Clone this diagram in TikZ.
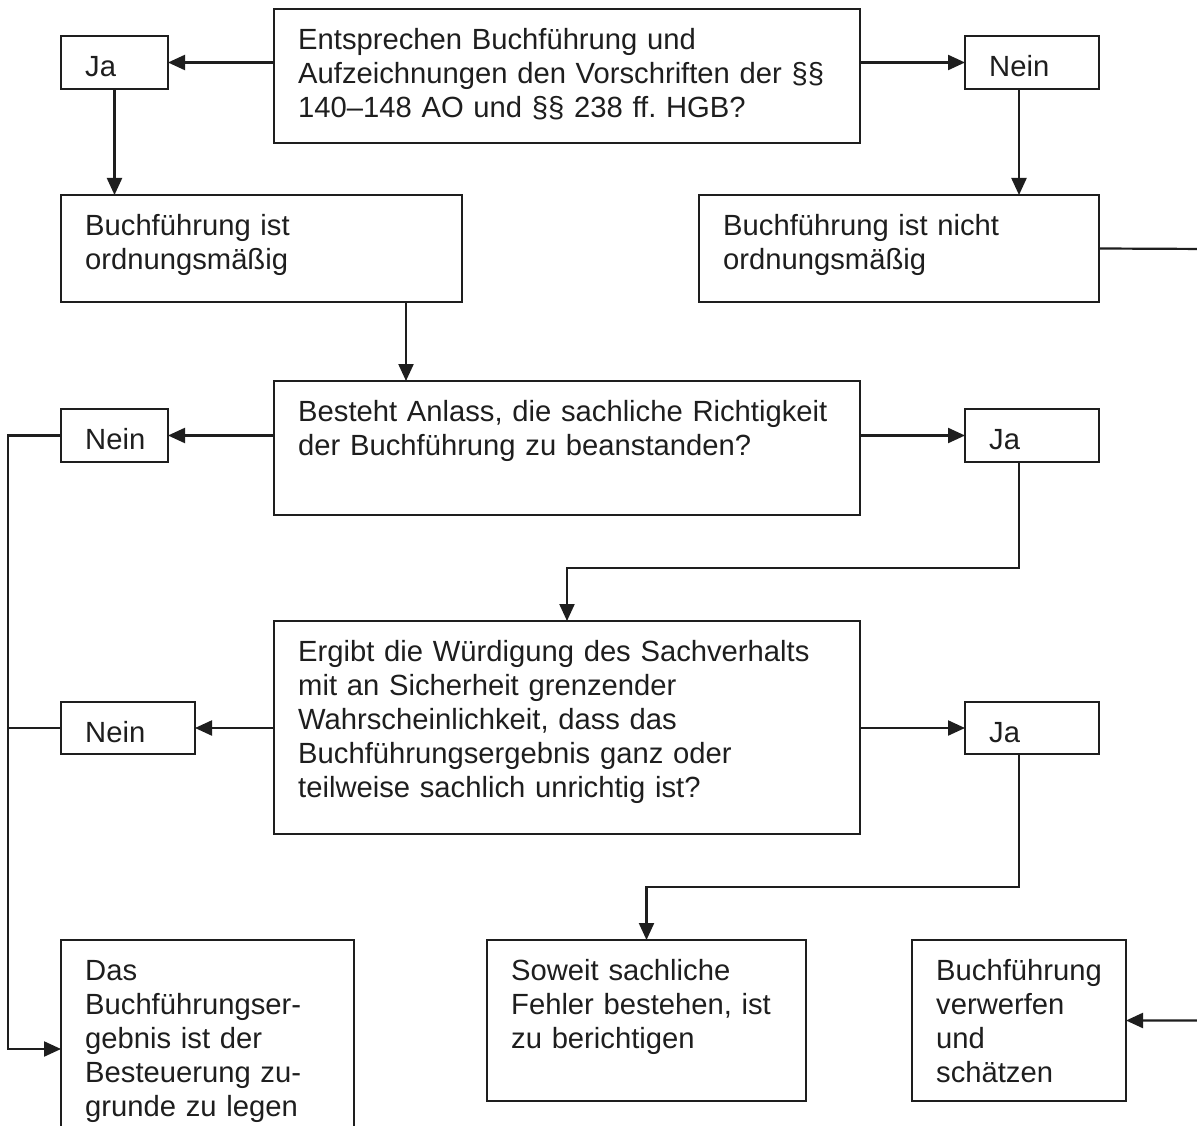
\documentclass[tikz,border=0pt]{standalone}
\usepackage{fontspec}
\setmainfont{Liberation Sans}
\usetikzlibrary{arrows.meta}
\definecolor{ink}{RGB}{30,30,30}
\tikzset{
  box/.style={draw=ink, line width=2.2pt, anchor=north west, inner sep=0pt, outer sep=0pt},
  txt/.style={anchor=north west, inner sep=0pt, text width=700pt, align=left,
    font=\fontsize{29.2}{34}\selectfont\frenchspacing, text=ink},
  arr/.style={draw=ink, line width=2.2pt, -{Triangle[length=17pt,width=15pt]}},
  ln/.style={draw=ink, line width=2.2pt},
  tshift/.style={shift={(24,16)}}
}
\newcommand{\fs}{\rule{0pt}{24pt}}
\begin{document}
\begin{tikzpicture}[x=1pt,y=-1pt]
\path[use as bounding box, clip] (0,0) rectangle (1197,1126);
\fill[white] (0,0) rectangle (1197,1126);
% boxes
\node[box, minimum width=586, minimum height=134] (q1) at (274,9) {};
\node[box, minimum width=107, minimum height=53] (ja1) at (61,36) {};
\node[box, minimum width=134, minimum height=53] (nein1) at (965,36) {};
\node[box, minimum width=401, minimum height=107] (ok) at (61,195) {};
\node[box, minimum width=400, minimum height=107] (nok) at (699,195) {};
\node[box, minimum width=586, minimum height=134] (q2) at (274,381) {};
\node[box, minimum width=107, minimum height=53] (nein2) at (61,409) {};
\node[box, minimum width=134, minimum height=53] (ja2) at (965,409) {};
\node[box, minimum width=586, minimum height=213] (q3) at (274,621) {};
\node[box, minimum width=134, minimum height=52] (nein3) at (61,702) {};
\node[box, minimum width=134, minimum height=52] (ja3) at (965,702) {};
\node[box, minimum width=293, minimum height=220] (das) at (61,940) {};
\node[box, minimum width=319, minimum height=161] (soweit) at (487,940) {};
\node[box, minimum width=214, minimum height=161] (verw) at (912,940) {};
% texts
\node[txt] (tq1) at ([tshift]q1.north west) {\fs Entsprechen Buchführung und\\Aufzeichnungen den Vorschriften der §§\\140–148 AO und §§ 238 ff. HGB?};
\node[txt] (tja1) at ([tshift]ja1.north west) {\fs Ja};
\node[txt] (tnein1) at ([tshift]nein1.north west) {\fs Nein};
\node[txt] (tok) at ([tshift]ok.north west) {\fs Buchführung ist\\ordnungsmäßig};
\node[txt] (tnok) at ([tshift]nok.north west) {\fs Buchführung ist nicht\\ordnungsmäßig};
\node[txt] (tq2) at ([tshift]q2.north west) {\fs Besteht Anlass, die sachliche Richtigkeit\\der Buchführung zu beanstanden?};
\node[txt] (tnein2) at ([tshift]nein2.north west) {\fs Nein};
\node[txt] (tja2) at ([tshift]ja2.north west) {\fs Ja};
\node[txt] (tq3) at ([tshift]q3.north west) {\fs Ergibt die Würdigung des Sachverhalts\\mit an Sicherheit grenzender\\Wahrscheinlichkeit, dass das\\Buchführungsergebnis ganz oder\\teilweise sachlich unrichtig ist?};
\node[txt] (tnein3) at ([tshift]nein3.north west) {\fs Nein};
\node[txt] (tja3) at ([tshift]ja3.north west) {\fs Ja};
\node[txt] (tdas) at ([tshift]das.north west) {\fs Das\\Buchführungser-\\gebnis ist der\\Besteuerung zu-\\grunde zu legen};
\node[txt] (tsoweit) at ([tshift]soweit.north west) {\fs Soweit sachliche\\Fehler bestehen, ist\\zu berichtigen};
\node[txt] (tverw) at ([tshift]verw.north west) {\fs Buchführung\\verwerfen\\und\\schätzen};
% connectors
\draw[arr] (q1.west |- ja1.east) -- (ja1.east);
\draw[arr] (q1.east |- nein1.west) -- (nein1.west);
\draw[arr] (ja1.south) -- (ja1.south |- ok.north);
\draw[arr] ([xshift=-13]nein1.south) -- ([xshift=-13]nein1.south |- nok.north);
\draw[arr] ([xshift=144.5]ok.south) -- ([xshift=144.5]ok.south |- q2.north);
\draw[arr] (q2.west |- nein2.east) -- (nein2.east);
\draw[arr] (q2.east |- ja2.west) -- (ja2.west);
\draw[arr] ([xshift=-13]ja2.south) -- ++(0,106) -| (q3.north);
\draw[arr] (q3.west |- nein3.east) -- (nein3.east);
\draw[arr] (q3.east |- ja3.west) -- (ja3.west);
\draw[arr] ([xshift=-13]ja3.south) -- ++(0,133) -| (soweit.north);
\coordinate (join) at (8,728);
\draw[arr] (nein2.west) -| (8,1049) -- (das.west |- 8,1049);
\draw[ln] (nein3.west) -- (join);
\draw[arr] (nok.east) -- (1210,249) |- (verw.east);
\end{tikzpicture}
\end{document}
